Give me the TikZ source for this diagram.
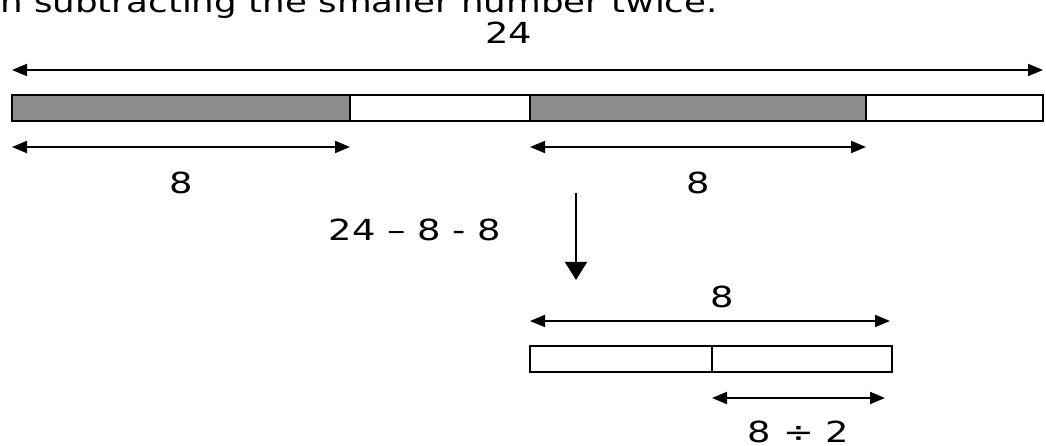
\documentclass[tikz,border=0pt]{standalone}
\usepackage{fontspec}
\usepackage{graphicx}
\setmainfont{DejaVu Sans}
\usetikzlibrary{arrows.meta, positioning}
\definecolor{barshade}{HTML}{8C8C8C}
\newcommand{\widetxt}[1]{\scalebox{1.27}[1]{#1}}

\begin{document}
\begin{tikzpicture}[
      every node/.style={font=\fontsize{16.5}{19}\selectfont},
      seg/.style={draw, line width=1pt, minimum height=0.52cm, inner sep=0pt, outer sep=0pt},
      dim/.style={{Triangle[length=0.3cm, width=0.24cm]}-{Triangle[length=0.3cm, width=0.24cm]}, line width=1.1pt},
      down/.style={-{Triangle[length=0.36cm, width=0.44cm]}, line width=0.9pt}
    ]
    \useasboundingbox (0,0) rectangle (20.92,8.92);
    \node[anchor=base west] (cap) at (-0.12,8.66) {\scalebox{1.23}[1]{n subtracting the smaller number twice.}};
    % whole bar: 24
    \node[seg, fill=barshade, minimum width=6.76cm, anchor=north west] (s1) at (0.24,7.02) {};
    \node[seg, fill=white, minimum width=3.6cm, right=0pt of s1] (s2) {};
    \node[seg, fill=barshade, minimum width=6.72cm, right=0pt of s2] (s3) {};
    \node[seg, fill=white, minimum width=3.54cm, right=0pt of s3] (s4) {};
    \draw[dim] ([yshift=0.5cm]s1.north west) -- ([yshift=0.5cm]s4.north east)
          node[pos=0.482, yshift=0.74cm] (whole) {\widetxt{24}};
    \draw[dim] ([yshift=-0.52cm]s1.south west) -- ([yshift=-0.52cm]s1.south east)
          node[midway, yshift=-0.72cm] (lone) {\widetxt{8}};
    \draw[dim] ([yshift=-0.52cm]s3.south west) -- ([yshift=-0.52cm]s3.south east)
          node[midway, yshift=-0.72cm] (ltwo) {\widetxt{8}};
    % step down
    \node (calc) at (8.3,4.32) {\widetxt{24 -- 8 - 8}};
    \coordinate (dtop) at (11.52,5.06);
    \coordinate (dbot) at (11.52,3.32);
    \draw[down] (dtop) -- (dbot);
    % remaining bar: 8
    \node[seg, fill=white, minimum width=3.64cm, anchor=north west] (h1) at (10.6,2.0) {};
    \node[seg, fill=white, minimum width=3.6cm, right=0pt of h1] (h2) {};
    \draw[dim] ([yshift=0.5cm]h1.north west) -- ([yshift=0.5cm, xshift=-0.04cm]h2.north east)
          node[pos=0.533, yshift=0.48cm] (rest) {\widetxt{8}};
    \draw[dim] ([yshift=-0.52cm]h2.south west) -- ([yshift=-0.52cm, xshift=-0.14cm]h2.south east)
          node[midway, yshift=-0.68cm] (half) {\widetxt{8 ÷ 2}};
  \end{tikzpicture}
\end{document}
